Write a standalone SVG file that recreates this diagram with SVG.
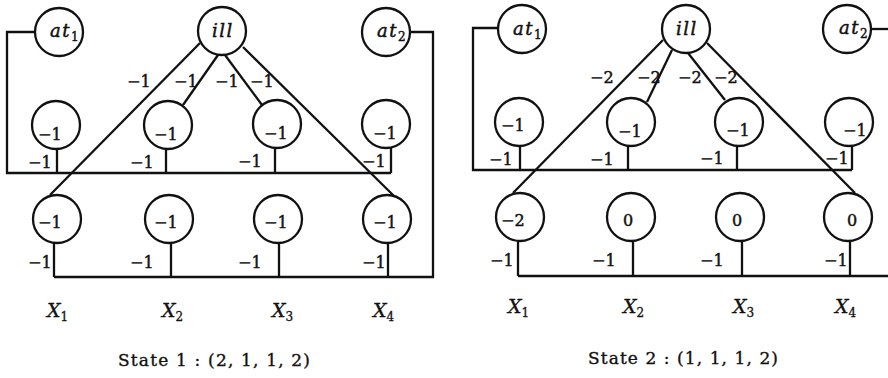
<svg xmlns="http://www.w3.org/2000/svg" width="888" height="378" viewBox="0 0 888 378">
<style>
.n{fill:none;stroke:#111;stroke-width:2.3}
.c{fill:none;stroke:#111;stroke-width:2.3;stroke-linejoin:miter}
.v{font-family:"DejaVu Serif","Liberation Serif",serif;font-size:16px;fill:#111;stroke:#111;stroke-width:0.45}
.i{font-family:"DejaVu Serif","Liberation Serif",serif;font-style:italic;font-size:18px;fill:#111;letter-spacing:1.5px;stroke:#111;stroke-width:0.45}
.x{font-family:"DejaVu Serif","Liberation Serif",serif;font-style:italic;font-size:19px;fill:#111;stroke:#111;stroke-width:0.3}
.s{font-size:12px;font-style:normal;letter-spacing:0}
.st{font-family:"DejaVu Serif","Liberation Serif",serif;font-size:17px;fill:#111;stroke:#111;stroke-width:0.35}
</style>
<rect width="888" height="378" fill="#fff"/>
<g id="connectors">
<polyline class="c" points="35,32 7,32 7,173 391,173"/>
<polyline class="c" points="410,32 433,32 433,277 54,277"/>
<line class="c" x1="57" y1="149" x2="57" y2="173"/>
<line class="c" x1="166" y1="149" x2="166" y2="173"/>
<line class="c" x1="275" y1="149" x2="275" y2="173"/>
<line class="c" x1="391" y1="147" x2="391" y2="173"/>
<line class="c" x1="54" y1="243" x2="54" y2="277"/>
<line class="c" x1="171" y1="243" x2="171" y2="277"/>
<line class="c" x1="279" y1="243" x2="279" y2="277"/>
<line class="c" x1="388" y1="243" x2="388" y2="277"/>
<line class="c" x1="200" y1="43" x2="50" y2="195"/>
<line class="c" x1="243" y1="47" x2="394" y2="196"/>
<line class="c" x1="218" y1="55" x2="183" y2="105"/>
<line class="c" x1="225" y1="55" x2="262" y2="105"/>
<polyline class="c" points="498,28 473,28 473,170 852,170"/>
<line class="c" x1="871" y1="29" x2="888" y2="29"/>
<line class="c" x1="518" y1="276" x2="888" y2="276"/>
<line class="c" x1="520" y1="146" x2="520" y2="170"/>
<line class="c" x1="628" y1="146" x2="628" y2="170"/>
<line class="c" x1="737" y1="146" x2="737" y2="170"/>
<line class="c" x1="852" y1="145" x2="852" y2="170"/>
<line class="c" x1="518" y1="241" x2="518" y2="276"/>
<line class="c" x1="633" y1="241" x2="633" y2="276"/>
<line class="c" x1="742" y1="241" x2="742" y2="276"/>
<line class="c" x1="850" y1="241" x2="850" y2="276"/>
<line class="c" x1="663" y1="40" x2="513" y2="193"/>
<line class="c" x1="707" y1="43" x2="855" y2="193"/>
<line class="c" x1="672" y1="50" x2="647" y2="102"/>
<line class="c" x1="688" y1="53" x2="725" y2="100"/>
</g>
<g id="edge-labels">
<text class="v" x="127" y="87">−1</text>
<text class="v" x="174" y="87">−1</text>
<text class="v" x="215" y="87">−1</text>
<text class="v" x="250" y="87">−1</text>
<text class="v" x="28" y="168">−1</text>
<text class="v" x="130" y="168">−1</text>
<text class="v" x="238" y="167">−1</text>
<text class="v" x="362" y="167">−1</text>
<text class="v" x="28" y="268">−1</text>
<text class="v" x="130" y="268">−1</text>
<text class="v" x="238" y="268">−1</text>
<text class="v" x="362" y="268">−1</text>
<text class="v" x="590" y="83">−2</text>
<text class="v" x="637" y="83">−2</text>
<text class="v" x="678" y="83">−2</text>
<text class="v" x="714" y="83">−2</text>
<text class="v" x="489" y="165">−1</text>
<text class="v" x="590" y="165">−1</text>
<text class="v" x="700" y="164">−1</text>
<text class="v" x="825" y="164">−1</text>
<text class="v" x="490" y="266">−1</text>
<text class="v" x="592" y="266">−1</text>
<text class="v" x="700" y="266">−1</text>
<text class="v" x="824" y="266">−1</text>
</g>
<g id="L-at1"><circle class="n" cx="59" cy="32" r="24"/><text class="i" x="50" y="37">at<tspan class="s" dy="4">1</tspan></text></g>
<g id="L-ill"><circle class="n" cx="222" cy="31" r="24"/><text class="i" x="212" y="37">ill</text></g>
<g id="L-at2"><circle class="n" cx="386" cy="32" r="24"/><text class="i" x="377" y="37">at<tspan class="s" dy="4">2</tspan></text></g>
<g id="L-m1"><circle class="n" cx="56" cy="125" r="24"/><text class="v" x="38" y="140">−1</text></g>
<g id="L-m2"><circle class="n" cx="168" cy="125" r="24"/><text class="v" x="154" y="140">−1</text></g>
<g id="L-m3"><circle class="n" cx="277" cy="124" r="24"/><text class="v" x="264" y="139">−1</text></g>
<g id="L-m4"><circle class="n" cx="386" cy="124" r="24"/><text class="v" x="373" y="139">−1</text></g>
<g id="L-b1"><circle class="n" cx="57" cy="219" r="24"/><text class="v" x="38" y="228">−1</text></g>
<g id="L-b2"><circle class="n" cx="169" cy="219" r="24"/><text class="v" x="154" y="228">−1</text></g>
<g id="L-b3"><circle class="n" cx="278" cy="219" r="24"/><text class="v" x="264" y="228">−1</text></g>
<g id="L-b4"><circle class="n" cx="387" cy="219" r="24"/><text class="v" x="373" y="228">−1</text></g>
<g id="R-at1"><circle class="n" cx="522" cy="29" r="24"/><text class="i" x="513" y="35">at<tspan class="s" dy="4">1</tspan></text></g>
<g id="R-ill"><circle class="n" cx="686" cy="29" r="24"/><text class="i" x="676" y="35">ill</text></g>
<g id="R-at2"><circle class="n" cx="847" cy="29" r="24"/><text class="i" x="839" y="34">at<tspan class="s" dy="4">2</tspan></text></g>
<g id="R-m1"><circle class="n" cx="519" cy="122" r="24"/><text class="v" x="501" y="131">−1</text></g>
<g id="R-m2"><circle class="n" cx="631" cy="122" r="24"/><text class="v" x="618" y="137">−1</text></g>
<g id="R-m3"><circle class="n" cx="739" cy="122" r="24"/><text class="v" x="726" y="136">−1</text></g>
<g id="R-m4"><circle class="n" cx="849" cy="122" r="24"/><text class="v" x="843" y="136">−1</text></g>
<g id="R-b1"><circle class="n" cx="520" cy="217" r="24"/><text class="v" x="501" y="226">−2</text></g>
<g id="R-b2"><circle class="n" cx="631" cy="217" r="24"/><text class="v" x="628" y="226" text-anchor="middle">0</text></g>
<g id="R-b3"><circle class="n" cx="740" cy="217" r="24"/><text class="v" x="737" y="226" text-anchor="middle">0</text></g>
<g id="R-b4"><circle class="n" cx="848" cy="217" r="24"/><text class="v" x="852" y="226" text-anchor="middle">0</text></g>
<g id="labels">
<text class="x" x="47" y="317">X<tspan class="s" dy="4">1</tspan></text>
<text class="x" x="162" y="317">X<tspan class="s" dy="4">2</tspan></text>
<text class="x" x="272" y="317">X<tspan class="s" dy="4">3</tspan></text>
<text class="x" x="373" y="317">X<tspan class="s" dy="4">4</tspan></text>
<text class="x" x="508" y="313">X<tspan class="s" dy="4">1</tspan></text>
<text class="x" x="623" y="313">X<tspan class="s" dy="4">2</tspan></text>
<text class="x" x="733" y="313">X<tspan class="s" dy="4">3</tspan></text>
<text class="x" x="835" y="313">X<tspan class="s" dy="4">4</tspan></text>
<text class="st" x="118" y="366" textLength="192" lengthAdjust="spacing">State 1 : (2, 1, 1, 2)</text>
<text class="st" x="588" y="364" textLength="190" lengthAdjust="spacing">State 2 : (1, 1, 1, 2)</text>
</g>
</svg>
